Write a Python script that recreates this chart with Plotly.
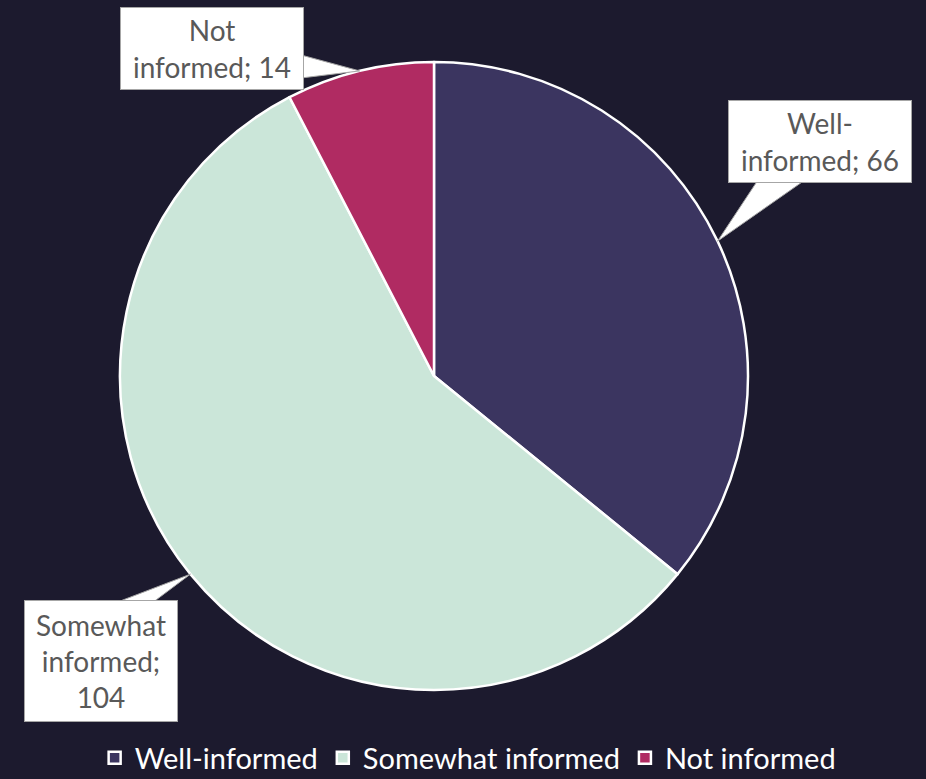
import math
import plotly.graph_objects as go

# ---- data ----
categories = ["Well-informed", "Somewhat informed", "Not informed"]
values = [66, 104, 14]
slice_colors = ["#3b3560", "#cbe6d9", "#b02b62"]

# ---- layout constants ----
W, H = 926, 779
CX, CY, R = 434, 376, 314          # pie centre / radius in px (top-left origin)
BG = "#1c1a2e"
FONT = "Lato"

# label boxes: left, top, right, bottom (px) and pointer base (px)
boxes = {
    "Well-informed": dict(box=(728, 100, 912, 183), side="bottom", base=(758, 805)),
    "Somewhat informed": dict(box=(24, 600, 178, 722), side="top", base=(115, 152)),
    "Not informed": dict(box=(120, 7, 304, 90), side="right", base=(55, 78)),
}
label_text = {
    "Well-informed": "Well-<br>informed; {v}",
    "Somewhat informed": "Somewhat<br>informed;<br>{v}",
    "Not informed": "Not<br>informed; {v}",
}


def px(x, y):
    return x / W, 1 - y / H


fig = go.Figure(
    go.Pie(
        labels=categories,
        values=values,
        sort=False,
        direction="clockwise",
        rotation=0,
        textinfo="none",
        hoverinfo="label+value",
        marker=dict(colors=slice_colors, line=dict(color="white", width=2.5)),
        domain=dict(
            x=[(CX - R) / W, (CX + R) / W],
            y=[1 - (CY + R) / H, 1 - (CY - R) / H],
        ),
    )
)

total = sum(values)
cum = 0
shapes = []
annotations = []
for cat, v in zip(categories, values):
    mid = (cum + v / 2) / total * 2 * math.pi
    cum += v
    tx, ty = CX + R * math.sin(mid), CY - R * math.cos(mid)
    b = boxes[cat]
    l, t, r, btm = b["box"]
    a0, a1 = b["base"]
    inset = 3
    if b["side"] == "bottom":
        p1, p2 = (a0, btm - inset), (a1, btm - inset)
    elif b["side"] == "top":
        p1, p2 = (a0, t + inset), (a1, t + inset)
    else:
        p1, p2 = (r - inset, a0), (r - inset, a1)
    pts = [px(*p1), px(tx, ty), px(*p2)]
    path = "M{:.5f},{:.5f} L{:.5f},{:.5f} L{:.5f},{:.5f} Z".format(
        pts[0][0], pts[0][1], pts[1][0], pts[1][1], pts[2][0], pts[2][1]
    )
    shapes.append(
        dict(type="path", xref="paper", yref="paper", path=path,
             fillcolor="white", line=dict(color="#a6a6a6", width=1), layer="above")
    )
    cxp, cyp = px((l + r) / 2, (t + btm) / 2)
    annotations.append(
        dict(
            x=cxp, y=cyp, xref="paper", yref="paper",
            xanchor="center", yanchor="middle",
            text=label_text[cat].format(v=v),
            showarrow=False,
            width=r - l - 2, height=btm - t - 2,
            align="center", valign="middle",
            bgcolor="white", bordercolor="#a6a6a6", borderwidth=1, borderpad=0,
            font=dict(family=FONT, size=28, color="#595959"),
        )
    )

fig.update_layout(
    width=W, height=H,
    margin=dict(l=0, r=0, t=0, b=0, autoexpand=False),
    paper_bgcolor=BG, plot_bgcolor=BG,
    shapes=shapes,
    annotations=annotations,
    showlegend=True,
    legend=dict(
        orientation="h", x=0.505, xanchor="center", y=0.027, yanchor="middle",
        font=dict(family=FONT, size=29, color="white"),
        bgcolor="rgba(0,0,0,0)", itemclick=False,
    ),
)

fig.write_html(
    "out.html",
    config={"displayModeBar": False},
    post_script="document.body.style.margin='0';document.body.style.overflow='hidden';"
                "document.body.style.background='" + BG + "';",
)
